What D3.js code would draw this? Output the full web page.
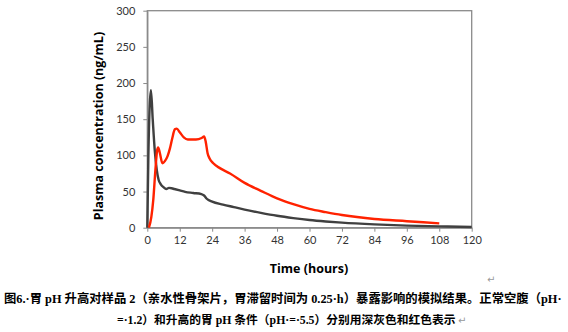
<!DOCTYPE html>
<html><head><meta charset="utf-8">
<script src="https://cdn.jsdelivr.net/npm/d3@7"></script>
<style>
html,body{margin:0;padding:0;background:#fff;}
svg{display:block;}
</style></head>
<body>
<svg id="c" width="568" height="332"></svg>
<script>
// ---- data ----
const xTicks = [0,12,24,36,48,60,72,84,96,108,120];
const yTicks = [0,50,100,150,200,250,300];
// normal fasted (pH 1.2) - dark grey
const timeGray = [0,0.4,1.35,2,2.8,3.5,4.2,5,6,7,8,9,10,12,14,17,20,21,22,24,28,32,36,42,48,54,60,66,72,84,96,108,120];
const concGray = [0,100,190,150,105,80,66,60,56,53.5,55,54.5,53.5,51.5,49.5,48,46.5,44.5,40,36,32,28.5,25,20.5,16.5,13.3,10.6,8.6,7,4.6,2.8,1.8,1];
// elevated gastric pH (pH 5.5) - red
const timeRed = [0.6,1.5,2.2,3,3.6,4.0,4.6,5.6,6.5,7.5,8.4,9.2,10.2,10.9,12,13.5,15,18,20.1,21,21.6,22.3,23,24.4,27,30.6,36,42,48,54,60,66,72,84,96,108];
const concRed = [0,15,38,80,106,111,104,89,92,99,110,123,136,137,132,125,122,122,124,126,119,103,96,89,82,75,62,51,40.5,32.5,26,21.5,17.5,12,9,6];
const xTitle = "Time (hours)";
const yTitle = "Plasma concentration (ng/mL)";
const caption1 = "图6.·胃 pH 升高对样品 2（亲水性骨架片，胃滞留时间为 0.25·h）暴露影响的模拟结果。正常空腹（pH·";
const caption2 = "=·1.2）和升高的胃 pH 条件（pH·=·5.5）分别用深灰色和红色表示";

const svg = d3.select("#c");
const x = d3.scaleLinear().domain([0,120]).range([147.3,471.7]);
const y = d3.scaleLinear().domain([0,300]).range([227.7,10.7]);
const axisCol = "#8a8a8a";
const tickFont = "Lato, 'Open Sans', sans-serif";

// frame
svg.append("rect").attr("x",x(0)).attr("y",y(300)).attr("width",x(120)-x(0)).attr("height",y(0)-y(300))
  .attr("fill","none").attr("stroke",axisCol).attr("stroke-width",1.3);

const gx = svg.append("g").attr("transform",`translate(0,${y(0)})`)
  .call(d3.axisBottom(x).tickValues(xTicks).tickSize(4).tickSizeOuter(0).tickPadding(5));
const gy = svg.append("g").attr("transform",`translate(${x(0)},0)`)
  .call(d3.axisLeft(y).tickValues(yTicks).tickSize(4).tickSizeOuter(0).tickPadding(8));
[gx,gy].forEach(g=>{
  g.select(".domain").attr("stroke",axisCol).attr("stroke-width",1.3);
  g.selectAll(".tick line").attr("stroke",axisCol).attr("stroke-width",1);
  g.selectAll(".tick text").attr("font-family",tickFont).attr("font-size",11).attr("fill","#333");
});

// lines
const line = d3.line().x(d=>x(d[0])).y(d=>y(d[1])).curve(d3.curveMonotoneX);
const grayPts = timeGray.map((t,i)=>[t,concGray[i]]);
const redPts = timeRed.map((t,i)=>[t,concRed[i]]);
svg.append("path").attr("d",line(grayPts)).attr("fill","none").attr("stroke","#404040").attr("stroke-width",2.4).attr("stroke-linejoin","round");
svg.append("path").attr("d",line(redPts)).attr("fill","none").attr("stroke","#ff2200").attr("stroke-width",2.4).attr("stroke-linejoin","round");

// titles
svg.append("text").attr("x",309).attr("y",273).attr("text-anchor","middle")
  .attr("font-family","'Open Sans', sans-serif").attr("font-weight","bold").attr("font-size",12.5).attr("fill","#000").text(xTitle);
svg.append("text").attr("transform","translate(103,126) rotate(-90)").attr("text-anchor","middle")
  .attr("font-family","'Open Sans', sans-serif").attr("font-weight","bold").attr("font-size",12.5).attr("fill","#000").text(yTitle);

// return marks
svg.append("text").attr("x",487).attr("y",283).attr("font-family","'DejaVu Sans'").attr("font-size",10).attr("fill","#999").text("↵");

// caption (font size fitted to the reference line width)
const capFont = "'Liberation Serif','Noto Sans CJK SC',serif";
function capLine(str, xs, ys, len){
  const t = svg.append("text").attr("x",xs).attr("y",ys).attr("font-family",capFont).attr("font-weight","bold")
    .attr("font-size",13).attr("fill","#000").text(str);
  const w = t.node().getComputedTextLength();
  t.attr("font-size", Math.min(14, 13*len/w));
  return t;
}
capLine(caption1, 4, 303, 558);
capLine(caption2, 117, 324, 339);
svg.append("text").attr("x",458).attr("y",324).attr("font-family","'DejaVu Sans'").attr("font-size",10).attr("fill","#999").text("↵");
</script>
</body></html>
